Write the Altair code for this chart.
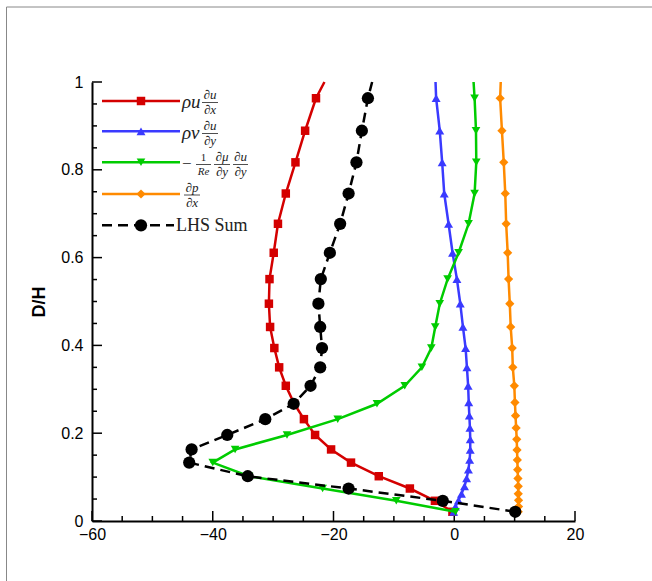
import altair as alt
import pandas as pd

# ---- data ----
# D/H levels with symbols for rho u du/dx, viscous term and LHS sum
y_main = [0.963, 0.889, 0.817, 0.746, 0.677, 0.611, 0.551, 0.495, 0.442, 0.394,
          0.350, 0.308, 0.267, 0.232, 0.196, 0.163, 0.133, 0.102, 0.074, 0.046, 0.021]
red_x = [-22.9, -24.7, -26.3, -27.9, -29.2, -29.9, -30.6, -30.7, -30.5, -29.8,
         -29.0, -27.9, -26.5, -24.9, -23.05, -20.4, -17.1, -12.5, -7.35, -3.2, -0.3]
green_x = [3.37, 3.6, 3.65, 3.37, 2.37, 0.72, -1.1, -2.4, -3.15, -3.8,
           -5.36, -8.2, -12.8, -19.3, -27.7, -36.3, -40.0, -34.0, -21.8, -9.6, 0.2]
lhs_x = [-14.3, -15.3, -16.2, -17.5, -18.9, -20.6, -22.1, -22.5, -22.2, -21.9,
         -22.2, -23.8, -26.6, -31.3, -37.6, -43.5, -43.9, -34.2, -17.5, -1.9, 10.1]

# D/H levels with symbols for rho v du/dy and dp/dx (finer near the wall)
y_fine = [0.963, 0.889, 0.817, 0.746, 0.677, 0.611, 0.551, 0.495, 0.442, 0.394,
          0.350, 0.308, 0.270, 0.240, 0.212, 0.186, 0.162, 0.139, 0.117, 0.097,
          0.079, 0.062, 0.047, 0.033, 0.021]
blue_x = [-3.0, -2.4, -2.0, -1.66, -0.94, -0.28, 0.44, 1.0, 1.44, 1.88,
          2.1, 2.3, 2.4, 2.5, 2.6, 2.65, 2.65, 2.55, 2.35, 2.05,
          1.7, 1.2, 0.7, 0.2, -0.1]
orange_x = [7.6, 7.9, 8.2, 8.45, 8.6, 8.85, 9.0, 9.2, 9.35, 9.6,
            9.7, 9.95, 10.05, 10.15, 10.25, 10.35, 10.4, 10.45, 10.5, 10.55,
            10.6, 10.6, 10.65, 10.65, 10.6]

# line end at D/H = 1 (no symbol)
top_y = 1.0
red_top, blue_top, green_top, orange_top, lhs_top = -21.5, -3.1, 3.2, 7.7, -13.6

x_ticks = [-60, -40, -20, 0, 20]
x_minor = [-55, -50, -45, -35, -30, -25, -15, -10, -5, 5, 10, 15]
y_ticks = [0, 0.2, 0.4, 0.6, 0.8, 1.0]
y_minor = [0.05, 0.1, 0.15, 0.25, 0.3, 0.35, 0.45, 0.5, 0.55,
           0.65, 0.7, 0.75, 0.85, 0.9, 0.95]

W, H = 483, 439
FONT = "Liberation Sans"
SERIF = "Liberation Serif"

xscale = alt.Scale(domain=[-60, 20], nice=False, zero=False)
yscale = alt.Scale(domain=[0, 1], nice=False, zero=False)
xaxis = alt.Axis(values=x_ticks, ticks=False, grid=False, labelFont=FONT,
                 labelFontSize=16, labelColor="black", labelPadding=5,
                 domainColor="black", domainWidth=2, title=None, labelFlush=False)
yaxis = alt.Axis(values=y_ticks, ticks=False, grid=False, labelFont=FONT,
                 labelFontSize=16, labelColor="black", labelPadding=9, format="~g",
                 domainColor="black", domainWidth=2, title="D/H", titleFont=FONT,
                 titleFontSize=18, titleFontWeight="bold", titleColor="black",
                 titlePadding=12, labelFlush=False)


def X(f):
    return alt.X(f, type="quantitative", scale=xscale, axis=xaxis)


def Y(f):
    return alt.Y(f, type="quantitative", scale=yscale, axis=yaxis)


layers = []

# ticks pointing inward
def xtick_layer(vals, length):
    df = pd.DataFrame({"v": vals})
    return alt.Chart(df).mark_rule(color="black", strokeWidth=1.5).encode(
        x=X("v"), y=alt.value(H), y2=alt.value(H - length))


def ytick_layer(vals, length):
    df = pd.DataFrame({"v": vals})
    return alt.Chart(df).mark_rule(color="black", strokeWidth=1.5).encode(
        y=Y("v"), x=alt.value(0), x2=alt.value(length))


layers += [xtick_layer(x_ticks, 10), xtick_layer(x_minor, 5),
           ytick_layer(y_ticks, 10), ytick_layer(y_minor, 5)]


def series(xs, ys, xt, color, shape, size, dash=None):
    line_df = pd.DataFrame({"x": [xt] + xs, "y": [top_y] + ys})
    pts_df = pd.DataFrame({"x": xs, "y": ys})
    kw = dict(color=color, strokeWidth=2.5)
    if dash:
        kw["strokeDash"] = dash
    ln = alt.Chart(line_df).mark_line(**kw).encode(
        x=X("x"), y=Y("y"), order=alt.Order("y:Q"))
    pt = alt.Chart(pts_df).mark_point(shape=shape, filled=True, opacity=1,
                                      color=color, size=size).encode(
        x=X("x"), y=Y("y"))
    return [ln, pt]


RED, BLUE, GREEN, ORANGE = "#d40000", "#3a3aff", "#00cc00", "#ff8a00"
layers += series(red_x, y_main, red_top, RED, "square", 72)
layers += series(blue_x, y_fine, blue_top, BLUE, "triangle-up", 80)
layers += series(green_x, y_main, green_top, GREEN, "triangle-down", 75)
layers += series(orange_x, y_fine, orange_top, ORANGE, "diamond", 85)
layers += series(lhs_x, y_main, lhs_top, "black", "circle", 150, dash=[10, 6])

# ---- frame around the figure ----
one = pd.DataFrame({"a": [0]})
layers.append(alt.Chart(one).mark_rule(color="#888888", strokeWidth=1).encode(
    x=alt.value(-85.5), y=alt.value(-75), y2=alt.value(499)))
layers.append(alt.Chart(one).mark_rule(color="#888888", strokeWidth=1).encode(
    x=alt.value(-85.5), x2=alt.value(560), y=alt.value(-75)))

# ---- manual legend ----
leg_rows = [19, 49.3, 80.3, 112, 143.3]
leg_cols = [RED, BLUE, GREEN, ORANGE, "black"]
leg_shapes = ["square", "triangle-up", "triangle-down", "diamond", "circle"]
leg_sizes = [72, 80, 75, 85, 150]
for i, (ry, c, s, sz) in enumerate(zip(leg_rows, leg_cols, leg_shapes, leg_sizes)):
    kw = dict(color=c, strokeWidth=2.5)
    x2 = 88
    if c == "black":
        kw["strokeDash"] = [10, 6]
        x2 = 82
    layers.append(alt.Chart(one).mark_rule(**kw).encode(
        x=alt.value(10), x2=alt.value(x2), y=alt.value(ry)))
    layers.append(alt.Chart(one).mark_point(shape=s, filled=True, opacity=1,
                                            color=c, size=sz).encode(
        x=alt.value(49), y=alt.value(ry)))

TXT = "#222222"


def txt(t, x, y, size, italic=True, align="center"):
    return alt.Chart(one).mark_text(text=t, font=SERIF, fontSize=size,
                                    fontStyle="italic" if italic else "normal",
                                    align=align, baseline="middle", color=TXT).encode(
        x=alt.value(x), y=alt.value(y))


def bar(x1, x2, y):
    return alt.Chart(one).mark_rule(color=TXT, strokeWidth=0.8).encode(
        x=alt.value(x1), x2=alt.value(x2), y=alt.value(y))


# row 1: rho u du/dx
layers += [txt("ρu", 90, 20, 19, align="left"),
           txt("∂u", 118, 13, 13), txt("∂x", 118, 28, 13), bar(110, 126, 20.5)]
# row 2: rho v du/dy
layers += [txt("ρv", 90, 51, 19, align="left"),
           txt("∂u", 118, 44, 13), txt("∂y", 118, 59, 13), bar(110, 126, 51.5)]
# row 3: -1/Re dmu/dy du/dy
layers += [txt("−", 90, 82, 17, italic=False, align="left"),
           txt("1", 111.5, 75.5, 11, italic=False), txt("Re", 111.5, 89.5, 11),
           bar(104, 119, 82.5),
           txt("∂μ", 130, 75, 13), txt("∂y", 130, 90, 13), bar(122, 138, 82.5),
           txt("∂u", 148.5, 75, 13), txt("∂y", 148.5, 90, 13), bar(141, 156, 82.5)]
# row 4: dp/dx
layers += [txt("∂p", 100, 106, 13), txt("∂x", 100, 120.5, 13), bar(92, 108, 113)]
# row 5: LHS Sum
layers += [txt("LHS Sum", 84, 144, 18, italic=False, align="left")]

chart = alt.layer(*layers).properties(
    width=W, height=H,
    autosize=alt.AutoSizeParams(type="none"),
    padding={"left": 92, "top": 82, "right": 77, "bottom": 60},
    background="white",
).configure_view(stroke=None)

chart.save("out.html", embed_options={"renderer": "svg", "actions": False})
